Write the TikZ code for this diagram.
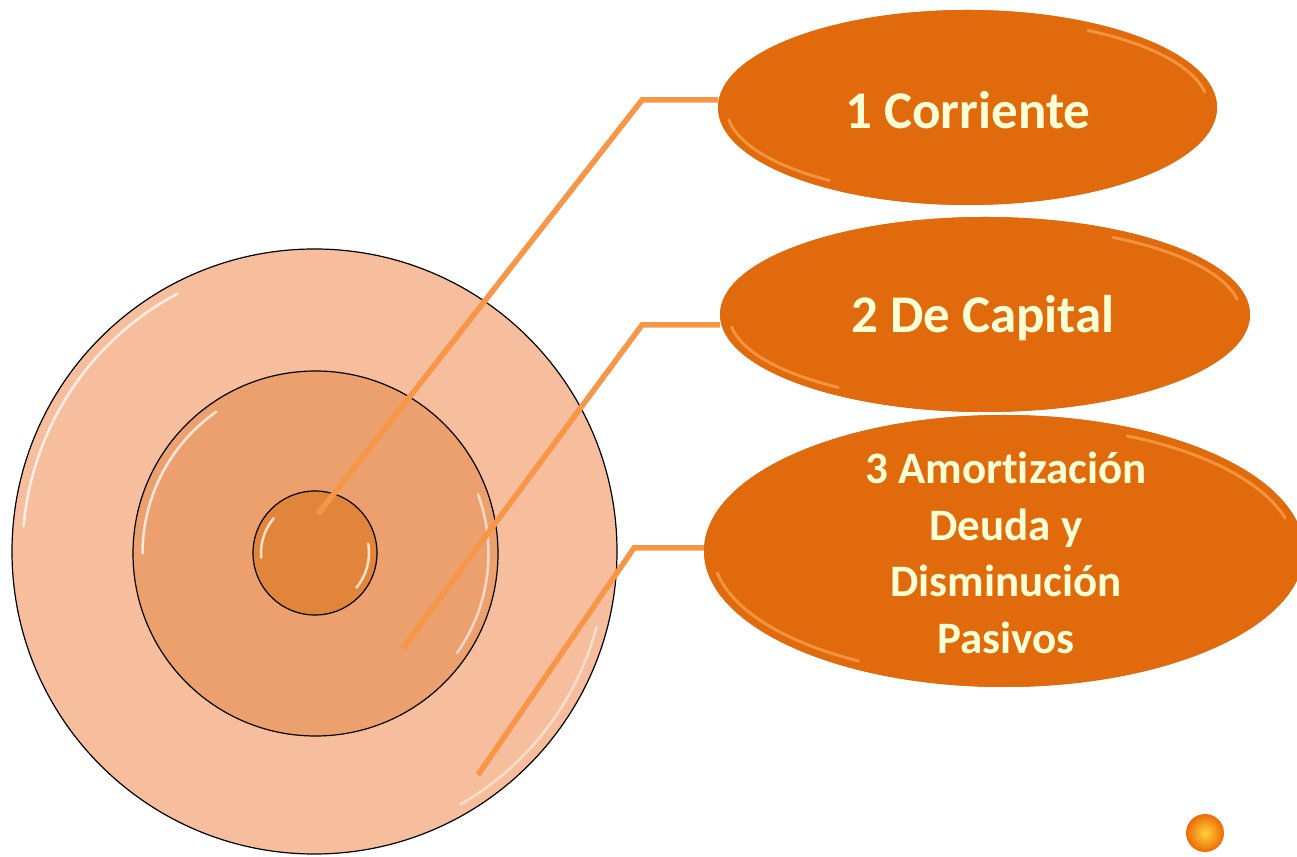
\documentclass[tikz,border=0pt]{standalone}
\usepackage{fontspec}
\setmainfont{Carlito}[Ligatures={NoCommon}]
\usetikzlibrary{shapes.geometric,calc}
\definecolor{ringA}{HTML}{F6BE9C}
\definecolor{ringB}{HTML}{ECA06E}
\definecolor{ringC}{HTML}{E0853A}
\definecolor{ovalfill}{HTML}{E06A0C}
\definecolor{ovalrim}{HTML}{FA9E4A}
\definecolor{linkcol}{HTML}{F79646}
\definecolor{txtcol}{HTML}{FFFFD6}
\definecolor{ballin}{HTML}{FFD23A}
\definecolor{ballout}{HTML}{EE6A08}
\tikzset{
  ring/.style={circle, draw=black, line width=1.2pt, inner sep=0pt},
  oval/.style={ellipse, fill=ovalfill, draw=none, inner sep=0pt},
  ovaltext/.style={text=txtcol, font=\fontsize{53}{60}\selectfont\bfseries, align=center, inner sep=0pt},
  smalltext/.style={text=txtcol, font=\fontsize{45}{56.5}\selectfont\bfseries, align=center, inner sep=0pt},
  link/.style={draw=linkcol, line width=5.5pt, line cap=butt, line join=miter},
  shine/.style={draw=white, line width=2.5pt, opacity=0.75, line cap=round},
  rim/.style={draw=ovalrim, line width=3pt, opacity=0.8, line cap=round},
}
\begin{document}
\begin{tikzpicture}[x=1pt,y=1pt]
\useasboundingbox (0,0) rectangle (1297,856);
% rings
\node[ring, fill=ringA, minimum size=605pt] (outer) at (314.5,304.5) {};
\node[ring, fill=ringB, minimum size=365pt] (middle) at (315.5,302.5) {};
\node[ring, fill=ringC, minimum size=124pt] (inner) at (315,303) {};
% glossy highlights
\draw[shine] (outer.center) ++(118:292) arc[start angle=118, end angle=175, radius=292];
\draw[shine, opacity=0.5] (outer.center) ++(-15:292) arc[start angle=-15, end angle=-60, radius=292];
\draw[shine] (middle.center) ++(125:173) arc[start angle=125, end angle=180, radius=173];
\draw[shine, opacity=0.6] (middle.center) ++(20:173) arc[start angle=20, end angle=-35, radius=173];
\draw[shine] (inner.center) ++(140:54) arc[start angle=140, end angle=185, radius=54];
\draw[shine] (inner.center) ++(10:54) arc[start angle=10, end angle=-40, radius=54];
% connector coordinates
\coordinate (s1) at (318,342);
\coordinate (k1) at (642,756);
\coordinate (s2) at (403,208);
\coordinate (k2) at (642,531);
\coordinate (s3) at (478,81);
\coordinate (k3) at (634,308);
% ovals
\node[oval, minimum width=499pt, minimum height=195pt] (e1) at (967.5,748.5) {};
\node[oval, minimum width=530pt, minimum height=195pt] (e2) at (985,541.5) {};
\node[oval, minimum width=600pt, minimum height=272pt] (e3) at (1004,305) {};
% connectors
\draw[link] (s1) -- (k1) -- (k1 -| e1.west);
\draw[link] (s2) -- (k2) -- (k2 -| e2.west);
\draw[link] (s3) -- (k3) -- (k3 -| e3.west);
% redraw ovals on top of connector ends
\fill[ovalfill] (e1.center) ellipse[x radius=249.5, y radius=97.5];
\fill[ovalfill] (e2.center) ellipse[x radius=265, y radius=97.5];
\fill[ovalfill] (e3.center) ellipse[x radius=300, y radius=136];
% oval rims
\draw[rim] (e1.center) ++(188:241 and 89) arc[start angle=188, end angle=235, x radius=241, y radius=89];
\draw[rim] (e1.center) ++(60:241 and 89) arc[start angle=60, end angle=10, x radius=241, y radius=89];
\draw[rim] (e2.center) ++(188:256 and 89) arc[start angle=188, end angle=235, x radius=256, y radius=89];
\draw[rim] (e2.center) ++(60:256 and 89) arc[start angle=60, end angle=10, x radius=256, y radius=89];
\draw[rim] (e3.center) ++(190:291 and 127) arc[start angle=190, end angle=240, x radius=291, y radius=127];
\draw[rim] (e3.center) ++(65:291 and 127) arc[start angle=65, end angle=15, x radius=291, y radius=127];
% texts
\node[ovaltext] (t1) at (968,746) {1 Corriente};
\node[ovaltext] (t2) at (983,538) {2 De Capital};
\node[smalltext] (t3) at (1006,303) {3 Amortización\\Deuda y\\Disminución\\Pasivos};
% small ball
\shade[inner color=ballin, outer color=ballout] (1205,23) circle[radius=19];
\end{tikzpicture}
\end{document}
